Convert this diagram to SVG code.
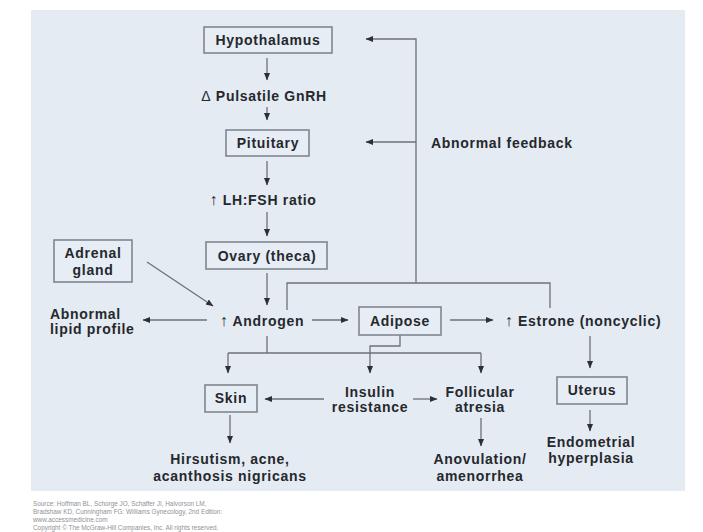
<svg xmlns="http://www.w3.org/2000/svg" width="703" height="532" viewBox="0 0 703 532">
<defs>
<marker id="ah" markerUnits="userSpaceOnUse" markerWidth="8" markerHeight="8" viewBox="0 0 8 8" refX="7" refY="4" orient="auto">
<path d="M0,1 L7.5,4 L0,7 Z" fill="#2b2f36"/>
</marker>
<style>
.t{font-family:"Liberation Sans",Arial,sans-serif;font-weight:bold;font-size:14px;letter-spacing:0.7px;fill:#25282d}
.m{text-anchor:middle}
.up{font-weight:normal;font-size:16px}
.box{fill:#e6edf4;stroke:#80868e;stroke-width:1.6}
.c{fill:none;stroke:#6d7279;stroke-width:1.3}
.a{marker-end:url(#ah)}
.f{font-family:"Liberation Sans",Arial,sans-serif;font-size:6.4px;fill:#8f9297}
</style>
</defs>
<rect x="0" y="0" width="703" height="532" fill="#ffffff"/>
<rect x="31" y="10" width="654" height="481" fill="#e4ebf2"/>

<g id="connectors">
<path class="c a" d="M267,58 V80"/>
<path class="c a" d="M267,107 V120"/>
<path class="c a" d="M267,161 V185"/>
<path class="c a" d="M267,212 V236"/>
<path class="c a" d="M267,273 V305"/>
<path class="c" d="M287,310 V283 H550 V308"/>
<path class="c a" d="M416,283 V39 H366"/>
<path class="c a" d="M416,142 H366"/>
<path class="c a" d="M147,262 L213,306"/>
<path class="c a" d="M207,320 H143"/>
<path class="c a" d="M312,320 H348"/>
<path class="c a" d="M450,320 H493"/>
<path class="c a" d="M590,336 V368"/>
<path class="c a" d="M590,410 V431"/>
<path class="c" d="M267,336 V353 M228,353 H481"/>
<path class="c a" d="M228,353 V373"/>
<path class="c a" d="M481,353 V373"/>
<path class="c a" d="M400,335 V346 H370 V373"/>
<path class="c a" d="M324,399 H265"/>
<path class="c a" d="M413,399 H437"/>
<path class="c a" d="M481,418 V446"/>
<path class="c a" d="M230,415 V443"/>
</g>

<g id="hypothalamus"><rect class="box" x="204" y="27" width="128" height="26"/><text class="t m" x="268" y="45">Hypothalamus</text></g>
<g id="gnrh"><text class="t m" x="264" y="101"><tspan font-weight="normal">Δ</tspan> Pulsatile GnRH</text></g>
<g id="pituitary"><rect class="box" x="226" y="130" width="83" height="26"/><text class="t m" x="268" y="148">Pituitary</text></g>
<g id="lhfsh"><text class="t m" x="263" y="205"><tspan class="up">↑</tspan> LH:FSH ratio</text></g>
<g id="ovary"><rect class="box" x="206" y="242" width="121" height="27"/><text class="t m" x="267" y="261">Ovary (theca)</text></g>
<g id="adrenal"><rect class="box" x="54" y="240" width="78" height="42"/><text class="t m" x="93" y="258">Adrenal</text><text class="t m" x="93" y="275">gland</text></g>
<g id="androgen"><text class="t m" x="262" y="326"><tspan class="up">↑</tspan> Androgen</text></g>
<g id="lipid"><text class="t" x="50" y="319">Abnormal</text><text class="t" x="50" y="334">lipid profile</text></g>
<g id="adipose"><rect class="box" x="359" y="307" width="82" height="28"/><text class="t m" x="400" y="326">Adipose</text></g>
<g id="estrone"><text class="t m" x="583" y="326"><tspan class="up">↑</tspan> Estrone (noncyclic)</text></g>
<g id="feedback"><text class="t" x="431" y="148">Abnormal feedback</text></g>
<g id="uterus"><rect class="box" x="557" y="377" width="70" height="27"/><text class="t m" x="592" y="395">Uterus</text></g>
<g id="endometrial"><text class="t m" x="591" y="447">Endometrial</text><text class="t m" x="591" y="463">hyperplasia</text></g>
<g id="skin"><rect class="box" x="205" y="385" width="52" height="27"/><text class="t m" x="231" y="403">Skin</text></g>
<g id="insulin"><text class="t m" x="370" y="397">Insulin</text><text class="t m" x="370" y="412">resistance</text></g>
<g id="follicular"><text class="t m" x="480" y="397">Follicular</text><text class="t m" x="480" y="412">atresia</text></g>
<g id="anovulation"><text class="t m" x="480" y="464">Anovulation/</text><text class="t m" x="480" y="481">amenorrhea</text></g>
<g id="hirsutism"><text class="t m" x="230" y="464">Hirsutism, acne,</text><text class="t m" x="230" y="481">acanthosis nigricans</text></g>

<g id="footer">
<text class="f" x="33" y="506">Source: Hoffman BL, Schorge JO, Schaffer JI, Halvorson LM,</text>
<text class="f" x="33" y="514">Bradshaw KD, Cunningham FG: Williams Gynecology, 2nd Edition:</text>
<text class="f" x="33" y="522">www.accessmedicine.com</text>
<text class="f" x="33" y="530">Copyright © The McGraw-Hill Companies, Inc. All rights reserved.</text>
</g>
</svg>
